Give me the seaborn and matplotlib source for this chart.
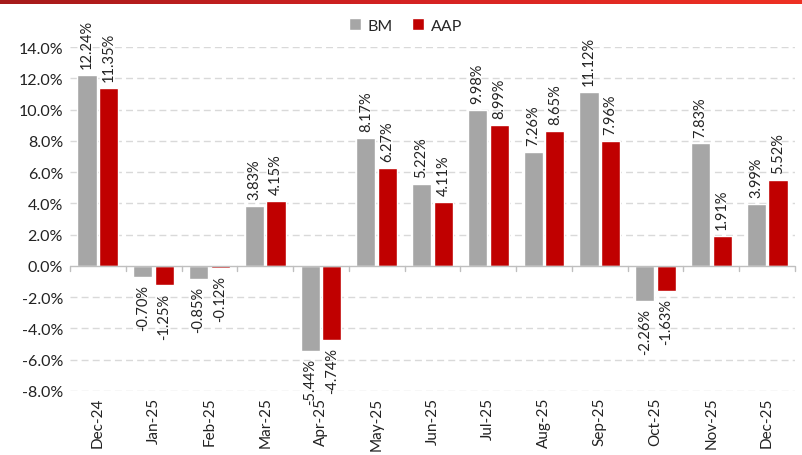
import numpy as np
import pandas as pd
import matplotlib
matplotlib.use("Agg")
import matplotlib.pyplot as plt
import seaborn as sns

months = ["Dec-24", "Jan-25", "Feb-25", "Mar-25", "Apr-25", "May-25", "Jun-25",
          "Jul-25", "Aug-25", "Sep-25", "Oct-25", "Nov-25", "Dec-25"]
bm = [12.24, -0.70, -0.85, 3.83, -5.44, 8.17, 5.22, 9.98, 7.26, 11.12, -2.26, 7.83, 3.99]
aap = [11.35, -1.25, -0.12, 4.15, -4.74, 6.27, 4.11, 8.99, 8.65, 7.96, -1.63, 1.91, 5.52]
series = ["BM", "AAP"]
colors = ["#A6A6A6", "#C00000"]
yticks = [-8, -6, -4, -2, 0, 2, 4, 6, 8, 10, 12, 14]

df = pd.DataFrame({
    "month": months * 2,
    "series": ["BM"] * len(months) + ["AAP"] * len(months),
    "value": bm + aap,
})

sns.set_theme(style="white")
plt.rcParams["font.family"] = ["Lato", "DejaVu Sans"]

fig = plt.figure(figsize=(8.02, 4.56), dpi=100)
ax = fig.add_axes([70 / 802, 1 - 392 / 456, 725 / 802, 344 / 456])

sns.barplot(data=df, x="month", y="value", hue="series", hue_order=series,
            palette=colors, order=months, width=0.78, gap=0.12,
            saturation=1, ax=ax, legend=True)

ax.set_ylim(-8, 14)
ax.set_xlim(-0.5, len(months) - 0.5)
ax.set_yticks(yticks)
ax.set_yticklabels([f"{v:.1f}%" for v in yticks], fontsize=11.5, color="#222222")
ax.set_xticks(range(len(months)))
ax.set_xticklabels(months, rotation=90, fontsize=11, color="#222222")
ax.tick_params(axis="x", length=0, pad=4)
ax.tick_params(axis="y", length=0, pad=5)
ax.set_xlabel("")
ax.set_ylabel("")

# dashed gridlines, solid zero axis with category separators
for v in yticks:
    if v != 0:
        ax.axhline(v, color="#D9D9D9", lw=1.0, ls=(0, (5, 3)), zorder=0)
ax.axhline(0, color="#BFBFBF", lw=1.0, zorder=3)
for b in np.arange(-0.5, len(months), 1.0):
    ax.plot([b, b], [0, -0.35], color="#BFBFBF", lw=1.0, clip_on=False, zorder=3)

for s in ax.spines.values():
    s.set_visible(False)

# value labels above / below each bar
for cont, vals in zip(ax.containers, [bm, aap]):
    ax.bar_label(cont, labels=[f"{v:.2f}%" for v in vals], rotation=90,
                 padding=5, fontsize=10.5, color="#222222")

leg = ax.legend(loc="center", bbox_to_anchor=(0.463, 1.062), ncol=2,
                frameon=False, fontsize=11.5, handlelength=0.75, handleheight=0.75,
                columnspacing=1.2, handletextpad=0.4)

# gradient banner across the top edge
band = fig.add_axes([0, 1 - 5 / 456, 1, 5 / 456])
grad = np.linspace(0, 1, 256).reshape(1, -1)
cmap = matplotlib.colors.LinearSegmentedColormap.from_list("band", ["#A51A1A", "#D42222", "#EE3124"])
band.imshow(grad, aspect="auto", cmap=cmap)
band.axis("off")

fig.savefig("out.png", dpi=100)
